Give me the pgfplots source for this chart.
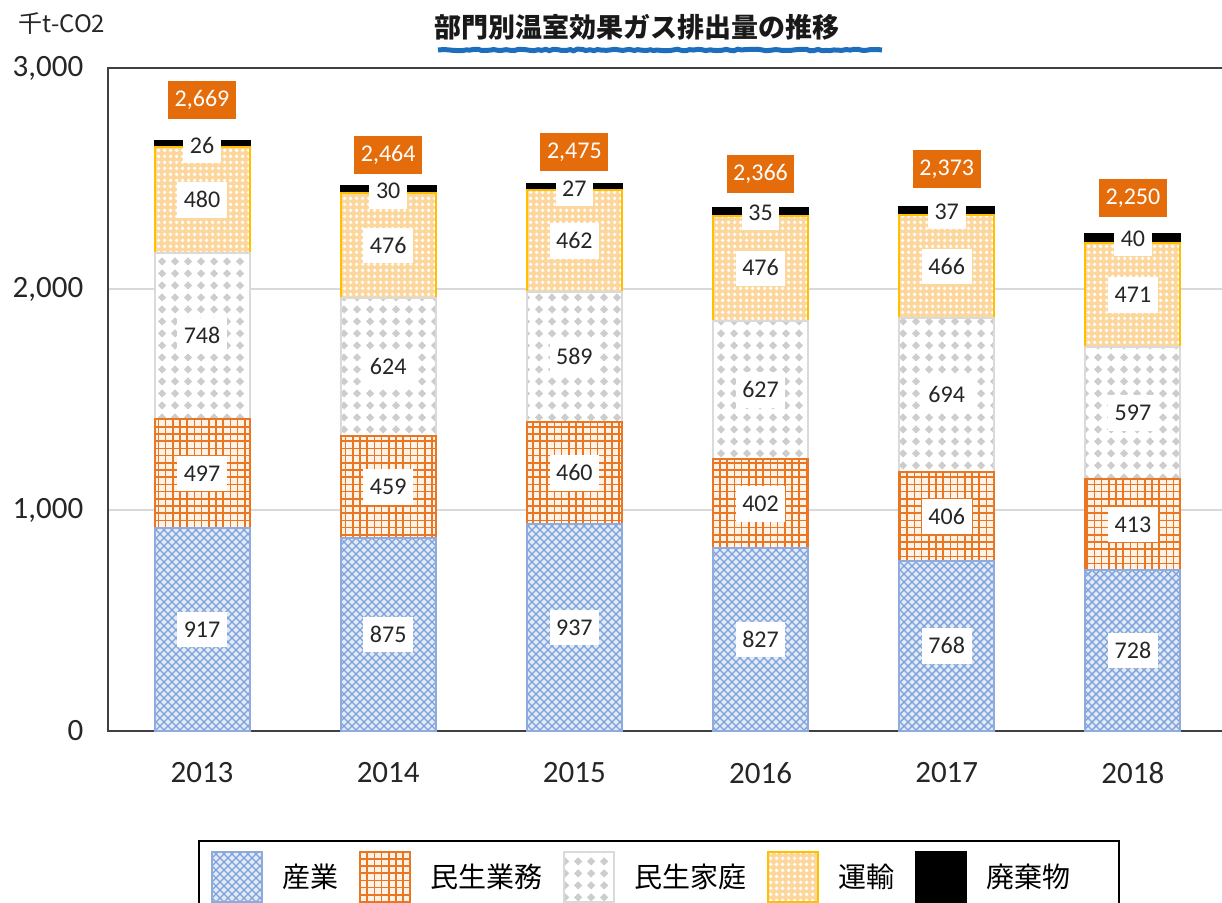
\documentclass[border=0pt]{standalone}
\usepackage{fontspec}
\setmainfont{Carlito}
\newfontfamily\jp{Noto Sans CJK JP}
\usepackage{pgfplots}
\pgfplotsset{compat=1.18}
\usepackage{pgfplotstable}
\usetikzlibrary{patterns,decorations.pathmorphing}

\definecolor{indBlue}{RGB}{125,162,218}
\definecolor{indFill}{RGB}{226,234,248}
\definecolor{indEdge}{RGB}{143,170,220}
\definecolor{comOr}{RGB}{232,118,34}
\definecolor{comFill}{RGB}{255,243,232}
\definecolor{resGray}{RGB}{205,205,205}
\definecolor{resEdge}{RGB}{218,218,218}
\definecolor{traFill}{RGB}{252,214,155}
\definecolor{traEdge}{RGB}{255,192,0}
\definecolor{totOr}{RGB}{228,108,10}
\definecolor{titleBlue}{RGB}{30,110,190}

\pgfdeclarepatternformonly{mycross}{\pgfqpoint{-1pt}{-1pt}}{\pgfqpoint{5pt}{5pt}}{\pgfqpoint{4pt}{4pt}}{%
  \pgfsetlinewidth{0.7pt}%
  \pgfpathmoveto{\pgfqpoint{-0.1pt}{-0.1pt}}\pgfpathlineto{\pgfqpoint{4.1pt}{4.1pt}}%
  \pgfpathmoveto{\pgfqpoint{-0.1pt}{4.1pt}}\pgfpathlineto{\pgfqpoint{4.1pt}{-0.1pt}}%
  \pgfusepath{stroke}}
\pgfdeclarepatternformonly{mygrid}{\pgfqpoint{-1pt}{-1pt}}{\pgfqpoint{5pt}{5pt}}{\pgfqpoint{3.6pt}{3.6pt}}{%
  \pgfsetlinewidth{0.8pt}%
  \pgfpathmoveto{\pgfqpoint{0pt}{-0.5pt}}\pgfpathlineto{\pgfqpoint{0pt}{4.1pt}}%
  \pgfpathmoveto{\pgfqpoint{-0.5pt}{0pt}}\pgfpathlineto{\pgfqpoint{4.1pt}{0pt}}%
  \pgfusepath{stroke}}
\pgfdeclarepatternformonly{mydiamonds}{\pgfqpoint{0pt}{0pt}}{\pgfqpoint{6.5pt}{6pt}}{\pgfqpoint{6.5pt}{6pt}}{%
  \pgfpathmoveto{\pgfqpoint{1.05pt}{3pt}}%
  \pgfpathlineto{\pgfqpoint{3.25pt}{5.2pt}}%
  \pgfpathlineto{\pgfqpoint{5.45pt}{3pt}}%
  \pgfpathlineto{\pgfqpoint{3.25pt}{0.8pt}}%
  \pgfpathclose
  \pgfusepath{fill}}
\pgfdeclarepatternformonly{myholes}{\pgfqpoint{0pt}{0pt}}{\pgfqpoint{3pt}{3pt}}{\pgfqpoint{3pt}{3pt}}{%
  \pgfpathcircle{\pgfqpoint{1.5pt}{1.5pt}}{1.1pt}%
  \pgfusepath{fill}}

\pgfplotstableread{
x ind com res tra was
0 917 497 748 480 26
1 875 459 624 476 30
2 937 460 589 462 27
3 827 402 627 476 35
4 768 406 694 466 37
5 728 413 597 471 40
}\data

\pgfplotstableread{
x y lab
0 458.5 917
1 437.5 875
2 468.5 937
3 413.5 827
4 384 768
5 364 728
0 1165.5 497
1 1104.5 459
2 1167 460
3 1028 402
4 971 406
5 934.5 413
0 1788 748
1 1646 624
2 1691.5 589
3 1542.5 627
4 1521 694
5 1439.5 597
0 2402 480
1 2196 476
2 2217 462
3 2094 476
4 2101 466
5 1973.5 471
0 2648 26
1 2444 30
2 2455 27
3 2347 35
4 2351 37
5 2229 40
}\labels

\pgfplotstableread{
x y lab
0 2855 2,669
1 2606 2,464
2 2620 2,475
3 2520 2,366
4 2543 2,373
5 2412 2,250
}\totals

\begin{document}
\begin{tikzpicture}
\begin{axis}[
  scale only axis, width=559pt, height=331.5pt,
  xmin=-0.505, xmax=5.5, ymin=0, ymax=3000,
  ybar stacked, bar width=47.5pt,
  xtick={0,1,2,3,4,5},
  xticklabels={2013,2014,2015,2016,2017,2018},
  ytick={0,1000,2000,3000},
  major tick length=0pt,
  ymajorgrids, grid style={draw=black!15, line width=0.6pt},
  axis line style={draw=black!75, line width=1.2pt},
  tick label style={font=\fontsize{15.5}{18}\selectfont, text=black!85},
  xticklabel style={anchor=center, yshift=-21pt},
  yticklabel style={anchor=east, xshift=-8.8pt},
  /pgf/number format/.cd, 1000 sep={,}, assume math mode=true,
  /pgfplots/.cd,
  legend image code/.code={\draw[#1] (0pt,-12.5pt) rectangle (25pt,12.5pt);},
  legend style={at={(0.4928,-0.1644)}, anchor=north, legend columns=5,
    draw=black, line width=1.2pt, inner xsep=6pt, inner ysep=5pt,
    column sep=10pt, nodes={inner sep=0pt},
    font=\jp\fontsize{14}{16}\selectfont},
]
\addplot[preaction={fill=indFill}, pattern=mycross, pattern color=indBlue, draw=indEdge, line width=1pt]
  table[x=x, y=ind]{\data};
\addlegendentry{産業}
\addplot[preaction={fill=comFill}, pattern=mygrid, pattern color=comOr, draw=comOr, line width=1pt]
  table[x=x, y=com]{\data};
\addlegendentry{民生業務}
\addplot[preaction={fill=white}, pattern=mydiamonds, pattern color=resGray, draw=resEdge, line width=1pt]
  table[x=x, y=res]{\data};
\addlegendentry{民生家庭}
\addplot[preaction={fill=traFill}, pattern=myholes, pattern color=white, draw=traEdge, line width=1pt]
  table[x=x, y=tra]{\data};
\addlegendentry{運輸}
\addplot[fill=black, draw=black, line width=1pt]
  table[x=x, y=was]{\data};
\addlegendentry{廃棄物\hspace*{18pt}}
\end{axis}

\begin{axis}[
  scale only axis, width=559pt, height=331.5pt,
  xmin=-0.505, xmax=5.5, ymin=0, ymax=3000,
  hide axis, clip=false,
]
\addplot[draw=none, mark=none, point meta=explicit symbolic, nodes near coords,
  every node near coord/.append style={anchor=center, fill=white, text=black!85,
    font=\fontsize{12}{14}\selectfont, inner xsep=3.3pt, inner ysep=5pt,
    text height=7.7pt, text depth=0pt}]
  table[x=x, y=y, meta=lab]{\labels};
\addplot[draw=none, mark=none, point meta=explicit symbolic, nodes near coords,
  every node near coord/.append style={anchor=center, fill=totOr, text=white,
    font=\fontsize{12}{14}\selectfont, inner xsep=3.3pt, inner ysep=5pt,
    text height=7.7pt, text depth=1.2pt}]
  table[x=x, y=y, meta=lab]{\totals};
\end{axis}

\node[font=\jp\bfseries\fontsize{13.5}{16}\selectfont, text=black!90] at (264.5pt,352pt) {部門別温室効果ガス排出量の推移};
\draw[titleBlue, line width=2.5pt, decorate, decoration={random steps, segment length=2pt, amplitude=0.4pt}] (165pt,340.5pt) -- (387pt,340.5pt);
\node[font=\jp\fontsize{12}{14}\selectfont, text=black!85] at (-23pt,353.5pt) {千t-CO2};

\pgfresetboundingbox
\useasboundingbox (-54pt,-85.5pt) rectangle (557pt,365.5pt);
\end{tikzpicture}
\end{document}
